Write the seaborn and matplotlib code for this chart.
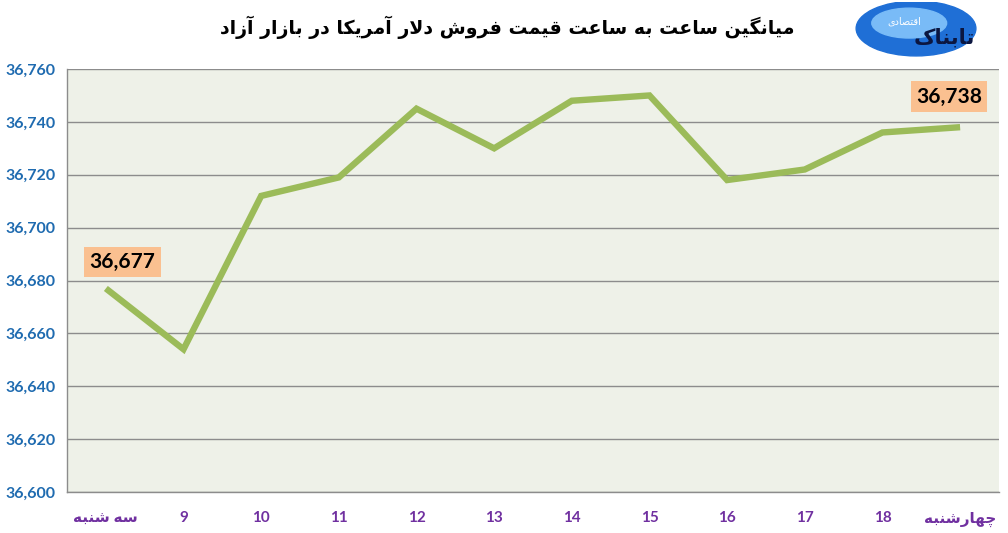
import numpy as np
import pandas as pd
import seaborn as sns
import matplotlib
matplotlib.use("Agg")
import matplotlib.pyplot as plt
from matplotlib.patches import Ellipse

# ---------------- data ----------------
hour_labels = ["سه شنبه", "9", "10", "11", "12", "13", "14", "15", "16", "17", "18", "چهارشنبه"]
prices = [36677, 36654, 36712, 36719, 36745, 36730, 36748, 36750, 36718, 36722, 36736, 36738]
y_ticks = [36600, 36620, 36640, 36660, 36680, 36700, 36720, 36740, 36760]
title_text = "میانگین ساعت به ساعت قیمت فروش دلار آمریکا در بازار آزاد"
logo_main = "تابناک"
logo_sub = "اقتصادی"

# ---------------- simple Persian shaper ----------------
FORMS = {
    'ا': ('\uFE8D', '\uFE8E', None, None),
    'آ': ('\uFE81', '\uFE82', None, None),
    'د': ('\uFEA9', '\uFEAA', None, None),
    'ر': ('\uFEAD', '\uFEAE', None, None),
    'ز': ('\uFEAF', '\uFEB0', None, None),
    'و': ('\uFEED', '\uFEEE', None, None),
    'ب': ('\uFE8F', '\uFE90', '\uFE91', '\uFE92'),
    'ت': ('\uFE95', '\uFE96', '\uFE97', '\uFE98'),
    'س': ('\uFEB1', '\uFEB2', '\uFEB3', '\uFEB4'),
    'ش': ('\uFEB5', '\uFEB6', '\uFEB7', '\uFEB8'),
    'ص': ('\uFEB9', '\uFEBA', '\uFEBB', '\uFEBC'),
    'ع': ('\uFEC9', '\uFECA', '\uFECB', '\uFECC'),
    'ف': ('\uFED1', '\uFED2', '\uFED3', '\uFED4'),
    'ق': ('\uFED5', '\uFED6', '\uFED7', '\uFED8'),
    'ل': ('\uFEDD', '\uFEDE', '\uFEDF', '\uFEE0'),
    'م': ('\uFEE1', '\uFEE2', '\uFEE3', '\uFEE4'),
    'ن': ('\uFEE5', '\uFEE6', '\uFEE7', '\uFEE8'),
    'ه': ('\uFEE9', '\uFEEA', '\uFEEB', '\uFEEC'),
    'ی': ('\uFEEF', '\uFEF0', '\uFEF3', '\uFEF4'),
    'ک': ('\uFB8E', '\uFB8F', '\uFB90', '\uFB91'),
    'گ': ('\uFB92', '\uFB93', '\uFB94', '\uFB95'),
    'چ': ('\uFB7A', '\uFB7B', '\uFB7C', '\uFB7D'),
}
LAMALEF = {'ا': ('\uFEFB', '\uFEFC'), 'آ': ('\uFEF5', '\uFEF6')}


def dual(c):
    return c in FORMS and FORMS[c][2] is not None


def shape(text):
    if not any(c in FORMS for c in text):
        return text
    ch = list(text)
    n = len(ch)
    out = []
    i = 0
    while i < n:
        c = ch[i]
        if c not in FORMS:
            out.append(c)
            i += 1
            continue
        prev_con = i > 0 and dual(ch[i - 1])
        if c == 'ل' and i + 1 < n and ch[i + 1] in LAMALEF:
            out.append(LAMALEF[ch[i + 1]][1 if prev_con else 0])
            i += 2
            continue
        next_con = dual(c) and i + 1 < n and ch[i + 1] in FORMS
        f = FORMS[c]
        if prev_con and next_con:
            g = f[3]
        elif prev_con:
            g = f[1]
        elif next_con:
            g = f[2]
        else:
            g = f[0]
        out.append(g)
        i += 1
    return ''.join(reversed(out))


# ---------------- plot ----------------
sns.set_theme(style="white")
plt.rcParams['font.family'] = ['Lato', 'DejaVu Sans']

df = pd.DataFrame({"idx": np.arange(len(prices)), "price": prices})

fig = plt.figure(figsize=(10.08, 5.33), dpi=100)
ax = fig.add_axes([0.0665, 0.0769, 0.9245, 0.7936])
ax.set_facecolor("#EEF1E8")

sns.lineplot(data=df, x="idx", y="price", ax=ax, color="#9BBB59",
             linewidth=4.6, solid_capstyle="butt", solid_joinstyle="miter", zorder=3)

ax.set_xlim(-0.5, len(prices) - 0.5)
ax.set_ylim(y_ticks[0], y_ticks[-1])
ax.set_yticks(y_ticks)
ax.set_yticklabels([f"{v:,}" for v in y_ticks], color="#1F6BB0",
                   fontsize=11.5, fontweight="bold")
ax.set_xticks(df["idx"])
ax.set_xticklabels([shape(s) for s in hour_labels], color="#7030A0",
                   fontsize=11, fontweight="bold",
                   family=['Lato', 'DejaVu Sans'])
ax.tick_params(axis='x', length=0, pad=14)
ax.tick_params(axis='y', length=0, pad=8)
ax.set_xlabel("")
ax.set_ylabel("")

ax.grid(axis='y', color="#8C8C8C", linewidth=1.0, zorder=1)
ax.set_axisbelow(True)
for s in ["top", "right"]:
    ax.spines[s].set_visible(False)
for s in ["left", "bottom"]:
    ax.spines[s].set_color("#8C8C8C")
    ax.spines[s].set_linewidth(1.0)

# data labels
box = dict(boxstyle="square,pad=0.25", fc="#FAC090", ec="none")
ax.annotate(f"{prices[0]:,}", xy=(0, prices[0]), xytext=(12, 19),
            textcoords="offset points", ha="center", va="center",
            fontsize=15, fontweight="bold", color="black", bbox=box, zorder=5)
ax.annotate(f"{prices[-1]:,}", xy=(len(prices) - 1, prices[-1]), xytext=(-8, 22),
            textcoords="offset points", ha="center", va="center",
            fontsize=15, fontweight="bold", color="black", bbox=box, zorder=5)

# title
fig.text(0.503, 0.948, shape(title_text), ha="center", va="center",
         fontsize=13.6, fontweight="bold", color="black",
         family=['DejaVu Sans'])

# logo
logo_ax = fig.add_axes([0.848, 0.885, 0.135, 0.112])
logo_ax.set_xlim(0, 1)
logo_ax.set_ylim(0, 1)
logo_ax.axis("off")
logo_ax.add_patch(Ellipse((0.45, 0.55), 0.88, 0.92, color="#1F6FD6"))
logo_ax.add_patch(Ellipse((0.40, 0.64), 0.55, 0.5, color="#79BBF7"))
logo_ax.text(0.66, 0.40, shape(logo_main), ha="center", va="center",
             fontsize=15, fontweight="bold", color="#0B1640", family=['DejaVu Sans'])
logo_ax.text(0.36, 0.66, shape(logo_sub), ha="center", va="center",
             fontsize=7, color="white", family=['DejaVu Sans'])

fig.savefig("out.png", dpi=100, facecolor="white")
